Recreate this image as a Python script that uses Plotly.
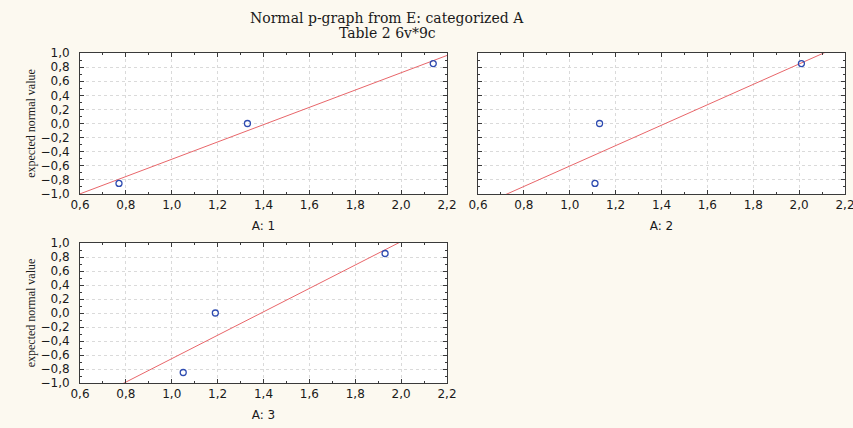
import numpy as np
import plotly.graph_objects as go

# Data
panels = ["A: 1", "A: 2", "A: 3"]
x_a1 = [0.77, 1.33, 2.14]
x_a2 = [1.11, 1.13, 2.01]
x_a3 = [1.05, 1.19, 1.93]
expected_normal = [-0.85, 0.0, 0.85]
xticks = [0.6, 0.8, 1.0, 1.2, 1.4, 1.6, 1.8, 2.0, 2.2]
yticks = [-1.0, -0.8, -0.6, -0.4, -0.2, 0.0, 0.2, 0.4, 0.6, 0.8, 1.0]
title_lines = ["Normal p-graph from E: categorized A", "Table 2 6v*9c"]

W, H = 853, 428
PAPER = "#FCF9F0"
FRAME = "#3a3a3a"
TICKFONT = dict(family="DejaVu Sans, Verdana", size=12, color="#1a1a1a")

# panel boxes in pixels: (left, right, top, bottom)
boxes = [(80, 447, 53, 194), (478, 845, 53, 194), (80, 447, 243, 383)]

fig = go.Figure()
xs_all = [x_a1, x_a2, x_a3]
for i, (xv, box) in enumerate(zip(xs_all, boxes)):
    n = i + 1
    xa = "x" if n == 1 else f"x{n}"
    ya = "y" if n == 1 else f"y{n}"
    # least-squares fit line (expected normal value on x)
    slope, icpt = np.polyfit(xv, expected_normal, 1)
    lx = np.array([0.6, 2.2])
    fig.add_trace(go.Scatter(x=lx, y=slope * lx + icpt, mode="lines",
                             line=dict(color="#E8666A", width=1),
                             xaxis=xa, yaxis=ya, showlegend=False, hoverinfo="skip"))
    fig.add_trace(go.Scatter(x=xv, y=expected_normal, mode="markers",
                             marker=dict(symbol="circle-open", size=6,
                                         color="#2E4BB0", line=dict(width=1.3)),
                             xaxis=xa, yaxis=ya, showlegend=False))
    l, r, t, b = box
    axis_common = dict(showline=True, linecolor=FRAME, linewidth=1, mirror="ticks",
                       ticks="inside", ticklen=4, tickcolor=FRAME, automargin=False,
                       showgrid=True, gridcolor="#dadada", griddash="dot", gridwidth=1,
                       zeroline=False, tickformat=".1f", tickfont=TICKFONT,
                       ticklabeloverflow="allow",
                       minor=dict(ticks="inside", ticklen=2, tickcolor=FRAME, showgrid=False))
    xk = "xaxis" if n == 1 else f"xaxis{n}"
    yk = "yaxis" if n == 1 else f"yaxis{n}"
    fig.update_layout(**{
        xk: dict(axis_common, domain=[l / W, r / W], anchor=ya, range=[0.6, 2.2],
                 tickvals=xticks, minor=dict(axis_common["minor"], dtick=0.1, tick0=0.6),
                 title=dict(text=panels[i], standoff=10, font=TICKFONT)),
        yk: dict(axis_common, domain=[1 - b / H, 1 - t / H], anchor=xa, range=[-1.0, 1.0],
                 tickvals=yticks, showticklabels=(n != 2), ticklabelstandoff=7,
                 minor=dict(axis_common["minor"], dtick=0.1, tick0=-1.0),
                 title=dict(text="" if n == 2 else "expected normal value", standoff=2,
                            font=dict(family="Liberation Serif, Times New Roman", size=12,
                                      color="#1a1a1a"))),
    })

for txt, ypix in zip(title_lines, [18, 33]):
    fig.add_annotation(x=387 / W, y=1 - ypix / H, xref="paper", yref="paper",
                       text=txt, showarrow=False, xanchor="center", yanchor="middle",
                       font=dict(family="DejaVu Serif, Times New Roman", size=14,
                                 color="#1a1a1a"))

fig.update_layout(width=W, height=H, margin=dict(l=0, r=0, t=0, b=0),
                  paper_bgcolor=PAPER, plot_bgcolor="white", separators=", ",
                  showlegend=False)

fig.write_html("out.html", config={"displayModeBar": False},
               post_script="document.body.style.margin='0';document.body.style.background='%s';" % PAPER)
